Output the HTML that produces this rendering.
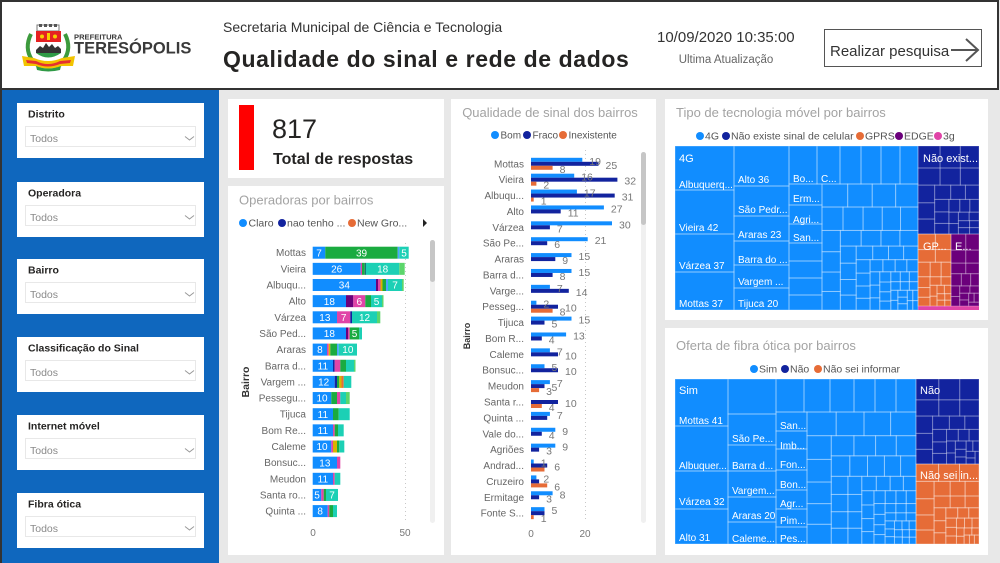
<!DOCTYPE html>
<html><head><meta charset="utf-8">
<style>
html,body{margin:0;padding:0;background:#e8e8e8;width:1000px;height:563px;overflow:hidden}
svg{display:block;font-family:"Liberation Sans",sans-serif}
</style></head><body>
<svg id="s" width="1000" height="563" viewBox="0 0 1000 563" xmlns="http://www.w3.org/2000/svg">
<rect width="1000" height="563" fill="#e8e8e8"/>
<!-- header -->
<rect x="1" y="1" width="997" height="88" fill="#fff" stroke="#333" stroke-width="2"/>
<!-- logo -->
<g>
  <path d="M31 34 Q24 48 32 60" stroke="#3c9a3c" stroke-width="4" fill="none"/>
  <path d="M65 34 Q72 48 64 60" stroke="#3c9a3c" stroke-width="4" fill="none"/>
  <rect x="37" y="25" width="22" height="6" fill="#fff" stroke="#777" stroke-width="1"/>
  <rect x="39" y="24" width="3" height="3" fill="#555"/><rect x="44" y="24" width="3" height="3" fill="#555"/><rect x="49" y="24" width="3" height="3" fill="#555"/><rect x="54" y="24" width="3" height="3" fill="#555"/>
  <rect x="36" y="31" width="25" height="11" fill="#e52222"/>
  <circle cx="42" cy="36.5" r="2" fill="#f5d000"/><rect x="47" y="33" width="3" height="7" fill="#f5d000"/><circle cx="55" cy="36.5" r="2" fill="#f5d000"/>
  <rect x="36" y="42" width="25" height="11" fill="#fff"/>
  <path d="M36 50 L40 46 L43 48 L46 43 L49 47 L52 44 L55 48 L58 46 L61 49 L61 53 L36 53 Z" fill="#333"/>
  <path d="M36 53 Q48 62 61 53 Z" fill="#2f9a46"/>
  <path d="M22 56 L34 58 Q48 64 62 58 L75 56 L73 66 L62 66 Q48 71 35 66 L24 66 Z" fill="#f2c400"/>
  <path d="M26 60 L36 61 Q48 67 60 61 L71 60 L70 63 L60 64 Q48 69 36 64 L27 63 Z" fill="#e53030"/>
  <path d="M36 66 Q48 71 61 66 L60 70 Q48 73 37 70 Z" fill="#2f9a46"/>
</g>
<text x="74" y="39.5" font-size="7.6" font-weight="bold" fill="#3a3a3a">PREFEITURA</text>
<text x="74" y="53.5" font-size="16.5" font-weight="bold" fill="#3a3a3a">TERESÓPOLIS</text>
<text x="223" y="32" font-size="14" fill="#333">Secretaria Municipal de Ciência e Tecnologia</text>
<text x="223" y="67" font-size="23" font-weight="bold" fill="#252423" letter-spacing="0.6">Qualidade do sinal e rede de dados</text>
<text x="657" y="42" font-size="15" fill="#333">10/09/2020 10:35:00</text>
<text x="726" y="63" font-size="11.5" fill="#666" text-anchor="middle">Ultima Atualização</text>
<rect x="824.5" y="29.5" width="157" height="37" fill="#fff" stroke="#555" stroke-width="1"/>
<text x="830" y="56" font-size="15" fill="#333">Realizar pesquisa</text>
<line x1="951" y1="50" x2="978" y2="50" stroke="#555" stroke-width="2"/>
<polyline points="966,39 978,50 966,61" fill="none" stroke="#555" stroke-width="2"/>

<!-- left panel -->
<rect x="0" y="90" width="219" height="473" fill="#0f67be"/>
<rect x="0" y="90" width="2" height="473" fill="#333"/>
<g id="filters"></g>

<!-- cards -->
<rect x="228" y="99" width="216" height="79" fill="#fff"/>
<rect x="239" y="105" width="15" height="65" fill="#ff0000"/>
<text x="272" y="138" font-size="27" fill="#252423">817</text>
<text x="273" y="164" font-size="16" font-weight="bold" fill="#252423">Total de respostas</text>

<rect x="228" y="186" width="216" height="369" fill="#fff"/>
<rect x="451" y="99" width="205" height="456" fill="#fff"/>
<rect x="665" y="99" width="323" height="221" fill="#fff"/>
<rect x="665" y="328" width="323" height="227" fill="#fff"/>

<!-- operadoras -->
<text x="239" y="204.5" font-size="13" fill="#a3a3a3">Operadoras por bairros</text>
<circle cx="243" cy="223" r="4" fill="#118dff"/><text x="248.5" y="226.7" font-size="10.5" fill="#555">Claro</text>
<circle cx="282" cy="223" r="4" fill="#12239e"/><text x="287" y="226.7" font-size="10.5" fill="#555">nao tenho ...</text>
<circle cx="352" cy="223" r="4" fill="#e66c37"/><text x="357" y="226.7" font-size="10.5" fill="#555">New Gro...</text>
<polygon points="423,219 427,223 423,227" fill="#222"/>
<line x1="405.5" y1="243" x2="405.5" y2="522" stroke="#c8c8c8" stroke-dasharray="1,3"/>
<text x="313" y="536" font-size="10" fill="#777" text-anchor="middle">0</text>
<text x="405" y="536" font-size="10" fill="#777" text-anchor="middle">50</text>
<text transform="translate(249,382) rotate(-90)" font-size="10.5" font-weight="bold" fill="#333" text-anchor="middle">Bairro</text>
<rect x="430" y="240" width="5" height="283" rx="2.5" fill="#f0f0f0"/>
<rect x="430" y="240" width="5" height="42" rx="2.5" fill="#c6c6c6"/>

<!-- qualidade -->
<text x="550" y="117" font-size="13" fill="#a3a3a3" text-anchor="middle">Qualidade de sinal dos bairros</text>
<circle cx="495" cy="135" r="4" fill="#118dff"/><text x="500.5" y="138.7" font-size="10" fill="#555">Bom</text>
<circle cx="527" cy="135" r="4" fill="#12239e"/><text x="532.5" y="138.7" font-size="10" fill="#555">Fraco</text>
<circle cx="563" cy="135" r="4" fill="#e66c37"/><text x="568.5" y="138.7" font-size="10" fill="#555">Inexistente</text>
<line x1="585.5" y1="150" x2="585.5" y2="522" stroke="#c8c8c8" stroke-dasharray="1,3"/>
<text x="531" y="537" font-size="10" fill="#777" text-anchor="middle">0</text>
<text x="585" y="537" font-size="10" fill="#777" text-anchor="middle">20</text>
<text transform="translate(470,336) rotate(-90)" font-size="9" font-weight="bold" fill="#333" text-anchor="middle">Bairro</text>
<rect x="641" y="152" width="5" height="371" rx="2.5" fill="#f0f0f0"/>
<rect x="641" y="152" width="5" height="73" rx="2.5" fill="#c6c6c6"/>

<!-- tech treemap -->
<text x="676" y="117" font-size="13" fill="#a3a3a3">Tipo de tecnologia móvel por bairros</text>
<circle cx="700" cy="136" r="4" fill="#118dff"/><text x="705" y="139.7" font-size="10.5" fill="#555">4G</text>
<circle cx="726" cy="136" r="4" fill="#12239e"/><text x="731" y="139.7" font-size="10.5" fill="#555">Não existe sinal de celular</text>
<circle cx="860" cy="136" r="4" fill="#e66c37"/><text x="865" y="139.7" font-size="10.5" fill="#555">GPRS</text>
<circle cx="899" cy="136" r="4" fill="#6b007b"/><text x="904" y="139.7" font-size="10.5" fill="#555">EDGE</text>
<circle cx="938" cy="136" r="4" fill="#e044a7"/><text x="943" y="139.7" font-size="10.5" fill="#555">3g</text>
<rect x="675" y="146" width="243" height="164" fill="#118dff"/>
<rect x="918" y="146" width="61" height="88" fill="#12239e"/>
<rect x="918" y="234" width="33" height="72" fill="#e66c37"/>
<rect x="951" y="234" width="28" height="72" fill="#6b007b"/>
<rect x="918" y="306" width="61" height="4" fill="#e044a7"/>

<!-- fibra treemap -->
<text x="676" y="350" font-size="13" fill="#a3a3a3">Oferta de fibra ótica por bairros</text>
<circle cx="754" cy="369" r="4" fill="#118dff"/><text x="759" y="372.7" font-size="10.5" fill="#555">Sim</text>
<circle cx="785" cy="369" r="4" fill="#12239e"/><text x="790" y="372.7" font-size="10.5" fill="#555">Não</text>
<circle cx="818" cy="369" r="4" fill="#e66c37"/><text x="823" y="372.7" font-size="10.5" fill="#555">Não sei informar</text>
<rect x="675" y="379" width="241" height="165" fill="#118dff"/>
<rect x="916" y="379" width="63" height="85" fill="#12239e"/>
<rect x="916" y="464" width="63" height="80" fill="#e66c37"/>

<g id="dyn"></g>
<g id="lbl" font-size="10" fill="#fff">
  <text x="679" y="162" font-size="11">4G</text>
  <text x="679" y="188">Albuquerq...</text>
  <text x="679" y="231">Vieira 42</text>
  <text x="679" y="269">Várzea 37</text>
  <text x="679" y="307">Mottas 37</text>
  <text x="738" y="183">Alto 36</text>
  <text x="738" y="213">São Pedr...</text>
  <text x="738" y="238">Araras 23</text>
  <text x="738" y="263">Barra do ...</text>
  <text x="738" y="285">Vargem ...</text>
  <text x="738" y="307">Tijuca 20</text>
  <text x="793" y="182">Bo...</text>
  <text x="821" y="182">C...</text>
  <text x="793" y="202">Erm...</text>
  <text x="793" y="223">Agri...</text>
  <text x="793" y="241">San...</text>
  <text x="923" y="162" font-size="11">Não exist...</text>
  <text x="923" y="250" font-size="11">GP...</text>
  <text x="955" y="250" font-size="11">E...</text>

  <text x="679" y="394" font-size="11">Sim</text>
  <text x="679" y="424">Mottas 41</text>
  <text x="679" y="469">Albuquer...</text>
  <text x="679" y="505">Várzea 32</text>
  <text x="679" y="541">Alto 31</text>
  <text x="732" y="442">São Pe...</text>
  <text x="732" y="469">Barra d...</text>
  <text x="732" y="494">Vargem...</text>
  <text x="732" y="519">Araras 20</text>
  <text x="732" y="542">Caleme...</text>
  <text x="780" y="429">San...</text>
  <text x="780" y="449">Imb...</text>
  <text x="780" y="468">Fon...</text>
  <text x="780" y="488">Bon...</text>
  <text x="780" y="507">Agr...</text>
  <text x="780" y="524">Pim...</text>
  <text x="780" y="542">Pes...</text>
  <text x="920" y="394" font-size="11">Não</text>
  <text x="920" y="479" font-size="11">Não sei in...</text>
</g>
</svg>
<script>
(function(){
var NS='http://www.w3.org/2000/svg';
var dyn=document.getElementById('dyn');
var fl=document.getElementById('filters');
function el(p,tag,a,t){var e=document.createElementNS(NS,tag);for(var k in a)e.setAttribute(k,a[k]);if(t!==undefined)e.textContent=t;p.appendChild(e);return e;}
// filters
var ft=['Distrito','Operadora','Bairro','Classificação do Sinal','Internet móvel','Fibra ótica'];
var tops=[103,182,259,337,415,493];
for(var i=0;i<6;i++){var t=tops[i];
 el(fl,'rect',{x:17,y:t,width:187,height:55,fill:'#fff'});
 el(fl,'text',{x:28,y:t+14.5,'font-size':10.5,'font-weight':'bold',fill:'#252423'},ft[i]);
 el(fl,'rect',{x:25.5,y:t+23.5,width:170,height:20,fill:'#fff',stroke:'#e8e8e8'});
 el(fl,'text',{x:30,y:t+39,'font-size':10.5,fill:'#8a8a8a'},'Todos');
 el(fl,'polyline',{points:(185)+','+(t+33.5)+' '+(189.5)+','+(t+37)+' '+(194)+','+(t+33.5),fill:'none',stroke:'#999','stroke-width':1});
}
// stacked bars
var C={B:'#118dff',N:'#12239e',O:'#e66c37',P:'#6b007b',K:'#e044a7',Y:'#d9b300',G:'#1aab40',T:'#1cd0b5',L:'#5cd66b',D:'#197278',C:'#4ba3ff'};
var S=[
['Mottas',[[325.3,'B','7'],[397.7,'G','39'],[399.3,'C'],[408.7,'T','5']]],
['Vieira',[[360.7,'B','26'],[362,'K'],[364.7,'G'],[366,'D'],[399.3,'T','18'],[404.7,'L']]],
['Albuqu...',[[376,'B','34'],[378,'P'],[380.5,'K'],[382.5,'Y'],[386,'G'],[388,'C'],[402,'T','7'],[403.7,'L']]],
['Alto',[[346,'B','18'],[353.3,'P'],[365.3,'K','6'],[371,'G'],[382,'T','5'],[383.5,'L']]],
['Várzea',[[337,'B','13'],[350.3,'K','7'],[352,'N'],[377,'T','12'],[380.3,'L']]],
['São Ped...',[[346,'B','18'],[348,'P'],[349.7,'K'],[359.3,'G','5'],[362,'T']]],
['Araras',[[327,'B','8'],[328.7,'K'],[330.3,'Y'],[337,'G'],[338.7,'C'],[357,'T','10']]],
['Barra d...',[[333,'B','11'],[334.7,'N'],[340.3,'K'],[346,'G'],[354,'T'],[355.5,'L']]],
['Vargem ...',[[334.7,'B','12'],[337,'N'],[339.3,'G'],[341.5,'Y'],[343.7,'O'],[351.3,'T']]],
['Pessegu...',[[331.3,'B','10'],[337,'G'],[340.3,'K'],[346,'T'],[349.7,'L']]],
['Tijuca',[[333,'B','11'],[338.7,'G'],[349.7,'T']]],
['Bom Re...',[[333,'B','11'],[334.7,'K'],[338,'G'],[343.7,'T']]],
['Caleme',[[331.3,'B','10'],[333,'K'],[337,'Y'],[339.3,'G'],[344.3,'T']]],
['Bonsuc...',[[337,'B','13'],[340.3,'K']]],
['Meudon',[[333,'B','11'],[334.7,'K'],[340.3,'T']]],
['Santa ro...',[[321.3,'B','5'],[323.7,'K'],[326,'G'],[338,'T','7']]],
['Quinta ...',[[327.7,'B','8'],[329.3,'K'],[333,'G'],[337,'T']]]
];
for(var i=0;i<S.length;i++){var c=252.7+16.15*i;var x0=312.7;
 el(dyn,'text',{x:306,y:c+3.5,'font-size':10,fill:'#666','text-anchor':'end'},S[i][0]);
 var segs=S[i][1];
 for(var j=0;j<segs.length;j++){var s=segs[j];
  el(dyn,'rect',{x:x0,y:c-6,width:Math.max(0.5,s[0]-x0),height:12,fill:C[s[1]]});
  if(s[2])el(dyn,'text',{x:(x0+s[0])/2,y:c+3.6,'font-size':10,fill:'#fff','text-anchor':'middle'},s[2]);
  x0=s[0];}
}
// grouped bars
var Q=[['Mottas',19,25,8],['Vieira',16,32,2],['Albuqu...',17,31,1],['Alto',27,11,0],['Várzea',30,7,0],['São Pe...',21,6,0],['Araras',15,9,0],['Barra d...',15,8,0],['Varge...',7,14,0],['Pesseg...',2,10,8],['Tijuca',15,5,0],['Bom R...',13,4,0],['Caleme',7,10,0],['Bonsuc...',5,10,0],['Meudon',7,5,3],['Santa r...',0,10,4],['Quinta ...',7,-6,0],['Vale do...',9,4,0],['Agriões',9,3,0],['Andrad...',1,6,-5],['Cruzeiro',2,-3,6],['Ermitage',8,3,0],['Fonte S...',5,-5,1]];
var qc=['#118dff','#12239e','#e66c37'];
var labs=[];
for(var i=0;i<Q.length;i++){var c=163.8+15.88*i;
 el(dyn,'text',{x:524,y:c+3.5,'font-size':10,fill:'#666','text-anchor':'end'},Q[i][0]);
 for(var k=0;k<3;k++){var v=Q[i][k+1];if(!v)continue;var a=Math.abs(v);var y=c-6+4*k;
  el(dyn,'rect',{x:531,y:y,width:a*2.7,height:4,fill:qc[k]});
  if(v>0)labs.push([531+a*2.7+7,y+2+5,String(v)]);}
}
for(var i=0;i<labs.length;i++)el(dyn,'text',{x:labs[i][0],y:labs[i][1],'font-size':10.5,fill:'#777'},labs[i][2]);
// treemaps
function worst(r,side){var s=0,mx=0,mn=1e9;for(var i=0;i<r.length;i++){s+=r[i];if(r[i]>mx)mx=r[i];if(r[i]<mn)mn=r[i];}return Math.max(side*side*mx/(s*s),s*s/(side*side*mn));}
function sq(vals,x,y,w,h){var tot=0;for(var i=0;i<vals.length;i++)tot+=vals[i];var kk=w*h/tot;var A=vals.map(function(v){return v*kk;});var out=[];var i=0;
 while(i<A.length){var side=Math.min(w,h);var row=[A[i]];var j=i+1;var best=worst(row,side);
  while(j<A.length){var r2=row.concat([A[j]]);var wv=worst(r2,side);if(wv<=best){row=r2;best=wv;j++;}else break;}
  var s=0;for(var q=0;q<row.length;q++)s+=row[q];
  if(w>=h){var cw=s/h,yy=y;for(var q=0;q<row.length;q++){var rh=row[q]/cw;out.push([x,yy,cw,rh]);yy+=rh;}x+=cw;w-=cw;}
  else{var rh2=s/w,xx=x;for(var q=0;q<row.length;q++){var rw=row[q]/rh2;out.push([xx,y,rw,rh2]);xx+=rw;}y+=rh2;h-=rh2;}
  i=j;}
 return out;}
function seq(n,r){var a=[],v=1;for(var i=0;i<n;i++){a.push(v);v*=r;}return a;}
function draw(rs,col){for(var i=0;i<rs.length;i++){var r=rs[i];el(dyn,'rect',{x:r[0],y:r[1],width:r[2],height:r[3],fill:'none',stroke:col||'rgba(255,255,255,0.32)','stroke-width':1});}}
draw([[675,146,59,44],[675,190,59,44],[675,234,59,38],[675,272,59,38],
[734,146,55,40],[734,186,55,30],[734,216,55,25],[734,241,55,24],[734,265,55,23],[734,288,55,22],
[789,146,28,38],[817,146,23,38],[840,146,21,38],[861,146,20,38],[881,146,19,38],[900,146,18,38],
[789,184,33,21],[789,205,33,19],[789,224,33,19],[789,243,33,18],[789,261,33,17],[789,278,33,17],[789,295,33,15]]);
draw(sq(seq(55,0.955),822,184,96,126));
draw(sq(seq(26,0.92),918,146,61,88),'rgba(255,255,255,0.25)');
draw(sq(seq(20,0.9),918,234,33,72));
draw(sq(seq(18,0.9),951,234,28,72),'rgba(255,255,255,0.25)');
draw([[675,379,53,47],[675,426,53,45],[675,471,53,38],[675,509,53,35],
[728,379,48,35],[728,414,48,31],[728,445,48,26],[728,471,48,26],[728,497,48,25],[728,522,48,22],
[776,379,28,33],[804,379,26,33],[830,379,24,33],[854,379,21,33],[875,379,21,33],[896,379,20,33],
[776,412,31,19],[776,431,31,18],[776,449,31,21],[776,470,31,20],[776,490,31,19],[776,509,31,18],[776,527,31,17]]);
draw(sq(seq(60,0.955),807,412,109,132));
draw(sq(seq(28,0.92),916,379,63,85),'rgba(255,255,255,0.25)');
draw(sq(seq(32,0.93),916,464,63,80));
})();
</script>
</body></html>
